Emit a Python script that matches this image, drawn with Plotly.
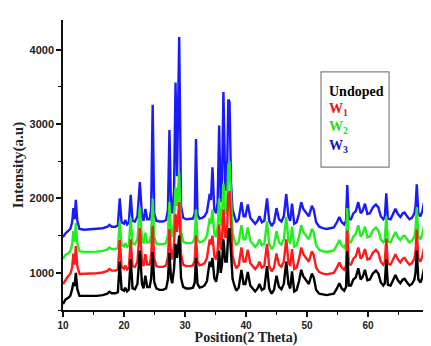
import plotly.graph_objects as go

two_theta = [
    10.0, 10.4, 10.8, 11.2, 11.5, 11.7, 11.9, 12.1, 12.35, 12.7,
    13.5, 14.5, 15.5, 16.5, 17.3, 17.6, 18.0, 18.6, 19.0, 19.3,
    19.6, 20.0, 20.2, 20.5, 20.8, 21.1, 21.4, 21.8, 22.2, 22.6,
    22.95, 23.2, 23.5, 23.8, 24.2, 24.45, 24.7, 24.95, 25.3, 25.8,
    26.4, 26.9, 27.2, 27.45, 27.7, 27.9, 28.2, 28.45, 28.7, 29.05,
    29.35, 29.7, 30.2, 30.8, 31.3, 31.6, 31.8, 32.05, 32.4, 32.8,
    33.2, 33.6, 34.05, 34.25, 34.5, 34.8, 35.1, 35.35, 35.6, 35.85,
    36.05, 36.3, 36.6, 36.85, 37.1, 37.3, 37.55, 37.8, 38.1, 38.4,
    38.8, 39.25, 39.6, 39.9, 40.3, 40.7, 41.1, 41.5, 41.9, 42.2,
    42.6, 43.0, 43.45, 43.8, 44.2, 44.6, 45.0, 45.4, 45.8, 46.2,
    46.6, 46.95, 47.25, 47.55, 47.9, 48.3, 48.7, 49.05, 49.4, 49.9,
    50.3, 50.8, 51.1, 51.5, 52.0, 52.6, 53.2, 53.8, 54.4, 54.9,
    55.3, 55.7, 56.1, 56.4, 56.6, 56.85, 57.2, 57.6, 58.0, 58.4,
    58.8, 59.1, 59.5, 59.9, 60.3, 60.8, 61.3, 61.7, 62.1, 62.5,
    62.75, 63.0, 63.25, 63.7, 64.1, 64.5, 64.9, 65.3, 65.7, 66.0,
    66.4, 66.8, 67.2, 67.6, 67.8, 68.0, 68.25, 68.6, 68.9, 69.2,
    69.5, 70.0,
]

w3_blue = [
    1480, 1530, 1560, 1590, 1680, 1870, 1720, 1980, 1700, 1590,
    1580, 1585, 1590, 1600, 1620, 1645, 1620, 1620, 1640, 2000,
    1680, 1660, 1710, 1650, 1680, 2050, 1700, 1690, 1760, 2220,
    1760, 1700, 1860, 1720, 1720, 1850, 3260, 1800, 1700, 1690,
    1690, 1710, 1850, 2920, 1900, 1800, 2100, 3560, 2300, 4170,
    1900, 1740, 1720, 1720, 1730, 1800, 2800, 1780, 1730, 1740,
    1760, 1820, 2060, 1980, 2420, 1850, 1800, 1950, 2980, 1950,
    2100, 3430, 2150, 2100, 3330, 3300, 2200, 1850, 1760, 1680,
    1720, 1950, 1760, 1760, 1920, 1740, 1700, 1660, 1700, 1760,
    1680, 1700, 2000, 1700, 1630, 1680, 1870, 1720, 1690, 1760,
    2060, 1760, 1700, 1930, 1660, 1680, 1800, 1950, 1860, 1800,
    1760, 1900, 1850, 1680, 1620, 1600, 1590, 1600, 1610, 1680,
    1750, 1680, 1650, 1700, 2180, 1720, 1720, 1800, 1830, 1950,
    1800, 1830, 1930, 1790, 1800, 1880, 1920, 1880, 1760, 1720,
    1750, 2070, 1730, 1720, 1780, 1860, 1790, 1750, 1800, 1810,
    1760, 1720, 1740, 1800, 1900, 2190, 1800, 1760, 1830, 1950,
    1760, 1680,
]

w2_green = [
    1190, 1240, 1260, 1290, 1380, 1560, 1420, 1670, 1400, 1290,
    1280, 1280, 1285, 1295, 1315, 1340, 1320, 1320, 1335, 1690,
    1380, 1355, 1400, 1350, 1375, 1740, 1395, 1385, 1450, 1880,
    1450, 1395, 1540, 1410, 1410, 1520, 2000, 1480, 1395, 1385,
    1385, 1400, 1520, 1950, 1560, 1480, 1700, 2150, 1900, 2350,
    1560, 1420, 1400, 1400, 1410, 1470, 1850, 1450, 1410, 1420,
    1440, 1500, 1730, 1660, 1850, 1530, 1480, 1620, 2000, 1640,
    1750, 2200, 1800, 1800, 2450, 2500, 1900, 1540, 1440, 1370,
    1410, 1640, 1450, 1450, 1610, 1430, 1390, 1350, 1390, 1450,
    1370, 1390, 1690, 1390, 1320, 1370, 1560, 1410, 1380, 1450,
    1750, 1450, 1390, 1620, 1350, 1370, 1490, 1640, 1550, 1490,
    1450, 1590, 1540, 1370, 1310, 1290, 1280, 1290, 1300, 1370,
    1440, 1370, 1340, 1390, 1870, 1410, 1410, 1490, 1520, 1640,
    1490, 1520, 1620, 1480, 1490, 1570, 1610, 1570, 1450, 1410,
    1440, 1760, 1420, 1410, 1470, 1550, 1480, 1440, 1490, 1500,
    1450, 1410, 1430, 1490, 1590, 1880, 1490, 1450, 1520, 1640,
    1450, 1370,
]

w1_red = [
    850, 910, 950, 985, 1070, 1260, 1110, 1360, 1090, 985,
    985, 990, 995, 1005, 1025, 1050, 1030, 1030, 1045, 1440,
    1080, 1055, 1100, 1045, 1070, 1450, 1090, 1080, 1150, 1600,
    1150, 1090, 1250, 1110, 1110, 1230, 1630, 1190, 1090, 1080,
    1080, 1100, 1220, 1590, 1250, 1180, 1380, 1790, 1550, 1950,
    1250, 1110, 1090, 1090, 1100, 1170, 1500, 1150, 1100, 1110,
    1130, 1200, 1450, 1380, 1500, 1230, 1180, 1300, 1650, 1310,
    1420, 1850, 1480, 1480, 2050, 2100, 1580, 1230, 1130, 1060,
    1100, 1340, 1150, 1150, 1310, 1130, 1090, 1050, 1090, 1150,
    1070, 1090, 1390, 1090, 1020, 1070, 1260, 1110, 1080, 1150,
    1450, 1150, 1090, 1320, 1050, 1070, 1190, 1340, 1250, 1190,
    1150, 1290, 1240, 1070, 1010, 990, 980, 990, 1000, 1070,
    1140, 1070, 1040, 1090, 1570, 1110, 1110, 1190, 1220, 1340,
    1190, 1220, 1320, 1180, 1190, 1270, 1310, 1270, 1150, 1110,
    1140, 1460, 1120, 1110, 1170, 1250, 1180, 1140, 1190, 1200,
    1150, 1110, 1130, 1190, 1290, 1580, 1190, 1150, 1220, 1340,
    1150, 1070,
]

undoped_black = [
    580, 640, 660, 690, 780, 870, 820, 1000, 780, 690,
    690, 685, 690, 700, 720, 745, 725, 725, 740, 1150,
    780, 760, 800, 750, 775, 1180, 790, 780, 850, 1300,
    850, 790, 960, 810, 810, 920, 1280, 880, 790, 770,
    770, 790, 910, 1270, 930, 860, 1050, 1390, 1200, 1500,
    930, 810, 790, 790, 800, 870, 1200, 850, 800, 810,
    830, 890, 1150, 1080, 1200, 930, 880, 1000, 1300, 1000,
    1100, 1450, 1150, 1150, 1550, 1600, 1250, 920, 830, 760,
    800, 1040, 850, 850, 1010, 830, 790, 750, 790, 850,
    770, 790, 1090, 790, 720, 770, 960, 810, 780, 850,
    1150, 850, 790, 1020, 750, 770, 890, 1040, 950, 890,
    850, 990, 940, 770, 720, 710, 700, 710, 720, 790,
    860, 790, 760, 810, 1290, 830, 830, 910, 940, 1060,
    910, 940, 1040, 900, 910, 990, 1030, 990, 870, 830,
    860, 1180, 840, 830, 890, 970, 900, 860, 910, 920,
    870, 830, 850, 910, 1010, 1300, 910, 870, 940, 1060,
    870, 790,
]

series_names = ["W3", "W2", "W1", "Undoped"]
series_colors = ["#1a1aff", "#22ee22", "#ff1a1a", "#000000"]
series_values = [w3_blue, w2_green, w1_red, undoped_black]

legend_labels = ["<b>Undoped</b>", "<b>W<sub>1</sub></b>", "<b>W<sub>2</sub></b>", "<b>W<sub>3</sub></b>"]
legend_colors = ["#000000", "#ee1111", "#22dd22", "#1111cc"]

fig = go.Figure()
for name, color, vals in zip(series_names, series_colors, series_values):
    fig.add_trace(go.Scatter(x=two_theta, y=vals, mode="lines", name=name,
                             line=dict(color=color, width=2.4), showlegend=False))

# legend box
fig.add_shape(type="rect", xref="paper", yref="paper",
              x0=0.705, x1=0.891, y0=0.493, y1=0.821,
              line=dict(color="#808080", width=1.2), fillcolor="white", layer="above")
legend_y = [0.752, 0.693, 0.628, 0.564]
for lab, col, yy in zip(legend_labels, legend_colors, legend_y):
    fig.add_annotation(xref="paper", yref="paper", x=0.72, y=yy, text=lab,
                       showarrow=False, xanchor="left", yanchor="middle",
                       font=dict(family="Liberation Serif", size=14, color=col))

ytickfont = dict(family="Liberation Sans", size=11, color="#222", weight="bold")
xtickfont = dict(family="Liberation Sans", size=10, color="#222", weight="bold")
ytitlefont = dict(family="Liberation Serif", size=15, color="#222", weight="bold")
xtitlefont = dict(family="Liberation Serif", size=14, color="#222", weight="bold")

# the page body has an 8px margin, so the figure is sized to fit the window
fig.update_layout(
    width=423, height=338,
    margin=dict(l=55, r=2, t=12, b=36),
    paper_bgcolor="white", plot_bgcolor="white",
    template=None,
    xaxis=dict(range=[10, 70], dtick=10, tick0=10, showgrid=False, zeroline=False,
               showline=True, linecolor="#111", linewidth=1.5,
               ticks="outside", ticklen=5, tickwidth=1.5, tickcolor="#111",
               minor=dict(dtick=5, ticklen=3, tickwidth=1.2, tickcolor="#111", ticks="outside"),
               tickfont=xtickfont, automargin=False, ticklabeloverflow="allow",
               title=dict(text="Position(2 Theta)", font=xtitlefont, standoff=5)),
    yaxis=dict(range=[500, 4400], dtick=1000, tick0=0, showgrid=False, zeroline=False,
               showline=True, linecolor="#111", linewidth=1.5,
               ticks="outside", ticklen=5, tickwidth=1.5, tickcolor="#111",
               minor=dict(dtick=500, tick0=0, ticklen=3, tickwidth=1.2, tickcolor="#111", ticks="outside"),
               tickfont=ytickfont, automargin=False,
               title=dict(text="Intensity(a.u)", font=ytitlefont, standoff=2)),
)

fig.write_html("out.html")
